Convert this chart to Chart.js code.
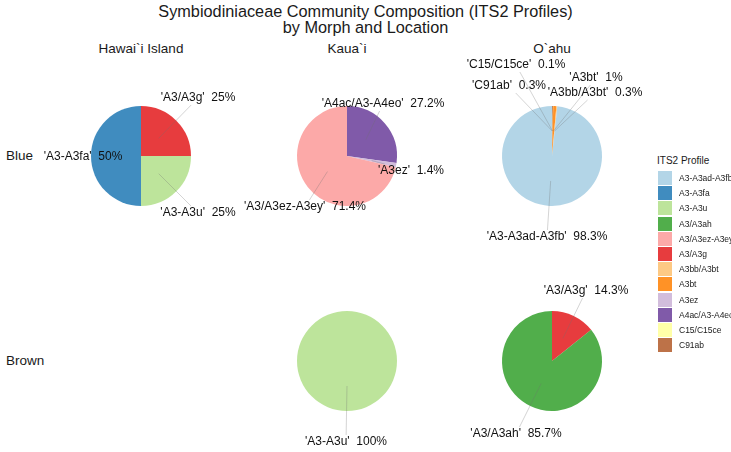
<!DOCTYPE html>
<html lang="en">
<head>
    <meta charset=utf-8>
    <title>ITS2 Profiles by Morph and Location</title>
    <script src="https://cdn.jsdelivr.net/npm/chart.js@4.4.1/dist/chart.umd.min.js"></script>
    <style>
        body { margin: 0; background: #fff; font-family: "Liberation Sans", Arial, sans-serif; color: #1a1a1a; }
        #page { position: relative; width: 731px; height: 452px; overflow: hidden; }
        #page canvas { position: absolute; }
        .txt { position: absolute; white-space: nowrap; }
        #title { left: 0; width: 731px; top: 3px; text-align: center; font-size: 16.3px; line-height: 16px; }
        .strip { font-size: 13.5px; line-height: 16px; transform: translateX(-50%); }
        .row { font-size: 13.5px; line-height: 16px; left: 6px; }
        #legtitle { left: 657px; top: 154px; font-size: 10px; line-height: 13px; }
        .key { position: absolute; left: 658px; width: 14px; height: 14px; }
        .keylab { position: absolute; left: 679px; font-size: 8.5px; line-height: 14px; white-space: nowrap; }
    </style>
</head>
<body>
<div id="page">
    <div id="title" class="txt">Symbiodiniaceae Community Composition (ITS2 Profiles)<br>by Morph and Location</div>
    <div class="txt strip" style="left:141px; top:41px">Hawai`i Island</div>
    <div class="txt strip" style="left:347px; top:41px">Kaua`i</div>
    <div class="txt strip" style="left:552px; top:41px">O`ahu</div>
    <div class="txt row" style="top:148px">Blue</div>
    <div class="txt row" style="top:353px">Brown</div>
    <div id="legtitle" class="txt">ITS2 Profile</div>
    <div id="legend"></div>
</div>
<script>
    // all profiles (legend order) and their colours (Brewer "Paired")
    var profiles = ['A3-A3ad-A3fb', 'A3-A3fa', 'A3-A3u', 'A3/A3ah', 'A3/A3ez-A3ey', 'A3/A3g',
        'A3bb/A3bt', 'A3bt', 'A3ez', 'A4ac/A3-A4eo', 'C15/C15ce', 'C91ab'];
    var profileColors = ['#A6CEE3', '#1F78B4', '#B2DF8A', '#33A02C', '#FB9A99', '#E31A1C',
        '#FDBF6F', '#FF7F00', '#CAB2D6', '#6A3D9A', '#FFFF99', '#B15928'];

    // relative abundance (%) per site / morph, clockwise from 12 o'clock
    var hawaiiBlueProfiles = ['A3/A3g', 'A3-A3u', 'A3-A3fa'];
    var hawaiiBlueShare = [25, 25, 50];

    var kauaiBlueProfiles = ['A4ac/A3-A4eo', 'A3ez', 'A3/A3ez-A3ey'];
    var kauaiBlueShare = [27.2, 1.4, 71.4];

    var oahuBlueProfiles = ['C91ab', 'C15/C15ce', 'A3bt', 'A3bb/A3bt', 'A3-A3ad-A3fb'];
    var oahuBlueShare = [0.3, 0.1, 1, 0.3, 98.3];

    var kauaiBrownProfiles = ['A3-A3u'];
    var kauaiBrownShare = [100];

    var oahuBrownProfiles = ['A3/A3g', 'A3/A3ah'];
    var oahuBrownShare = [14.3, 85.7];

    // label placement (px offset from pie centre), like the repelled labels
    var hawaiiBlueLabelPos = [[57, -58], [57, 57], [-58, 1]];
    var kauaiBlueLabelPos = [[36, -52], [64, 15], [-42, 51]];
    var oahuBlueLabelPos = [[-43, -70], [-36, -91], [44, -78], [43, -63], [-5, 81]];
    var kauaiBrownLabelPos = [[-1, 81]];
    var oahuBrownLabelPos = [[34, -70], [-36, 73]];

    var ALPHA = 0.85;

    function withAlpha(hex, a) {
        var r = parseInt(hex.slice(1, 3), 16), g = parseInt(hex.slice(3, 5), 16), b = parseInt(hex.slice(5, 7), 16);
        return 'rgba(' + r + ',' + g + ',' + b + ',' + a + ')';
    }

    function colorOf(name) {
        return withAlpha(profileColors[profiles.indexOf(name)], ALPHA);
    }

    function fmt(v) {
        return Number.isInteger(v) ? String(v) : v.toFixed(1);
    }

    var sliceLabels = {
        id: 'sliceLabels',
        afterDatasetsDraw: function (chart, args, opts) {
            var ctx = chart.ctx;
            var meta = chart.getDatasetMeta(0);
            var ds = chart.data.datasets[0];
            ctx.save();
            ctx.font = '12px "Liberation Sans", Arial, sans-serif';
            ctx.textAlign = 'center';
            ctx.textBaseline = 'middle';
            meta.data.forEach(function (arc, i) {
                var anchor = arc.tooltipPosition();
                var off = opts.offsets[i];
                var lx = arc.x + off[0], ly = arc.y + off[1];
                var text = "'" + chart.data.labels[i] + "'  " + fmt(ds.data[i]) + '%';
                var hw = ctx.measureText(text).width / 2 + 2, hh = 7;
                var dx = lx - anchor.x, dy = ly - anchor.y;
                var inside = Math.abs(dx) < hw && Math.abs(dy) < hh;
                if (!inside) {
                    var s = Math.min(dx ? hw / Math.abs(dx) : Infinity, dy ? hh / Math.abs(dy) : Infinity);
                    ctx.strokeStyle = 'rgba(110,110,110,0.6)';
                    ctx.lineWidth = 0.5;
                    ctx.beginPath();
                    ctx.moveTo(anchor.x, anchor.y);
                    ctx.lineTo(lx - s * dx, ly - s * dy);
                    ctx.stroke();
                }
                ctx.fillStyle = '#111';
                ctx.fillText(text, lx, ly);
            });
            ctx.restore();
        }
    };

    var page = document.getElementById('page');

    function pie(cx, cy, names, shares, labelPos) {
        var size = 220;
        var canvas = document.createElement('canvas');
        canvas.width = size;
        canvas.height = size;
        canvas.style.left = (cx - size / 2) + 'px';
        canvas.style.top = (cy - size / 2) + 'px';
        page.appendChild(canvas);
        return new Chart(canvas.getContext('2d'), {
            type: 'pie',
            data: {
                labels: names,
                datasets: [{
                    data: shares,
                    backgroundColor: names.map(colorOf),
                    borderWidth: 0
                }]
            },
            options: {
                responsive: false,
                animation: false,
                devicePixelRatio: 1,
                events: [],
                layout: {padding: (size - 100) / 2},
                plugins: {
                    legend: {display: false},
                    tooltip: {enabled: false},
                    sliceLabels: {offsets: labelPos}
                }
            },
            plugins: [sliceLabels]
        });
    }

    pie(141, 156, hawaiiBlueProfiles, hawaiiBlueShare, hawaiiBlueLabelPos);
    pie(347, 156, kauaiBlueProfiles, kauaiBlueShare, kauaiBlueLabelPos);
    pie(552, 156, oahuBlueProfiles, oahuBlueShare, oahuBlueLabelPos);
    pie(347, 361, kauaiBrownProfiles, kauaiBrownShare, kauaiBrownLabelPos);
    pie(552, 361, oahuBrownProfiles, oahuBrownShare, oahuBrownLabelPos);

    // legend
    var legend = document.getElementById('legend');
    profiles.forEach(function (name, i) {
        var top = 171 + i * 15.2;
        var key = document.createElement('div');
        key.className = 'key';
        key.style.top = top + 'px';
        key.style.background = withAlpha(profileColors[i], ALPHA);
        legend.appendChild(key);
        var lab = document.createElement('div');
        lab.className = 'keylab';
        lab.style.top = top + 'px';
        lab.textContent = name;
        legend.appendChild(lab);
    });
    page.appendChild(legend);
</script>
</body>
</html>
